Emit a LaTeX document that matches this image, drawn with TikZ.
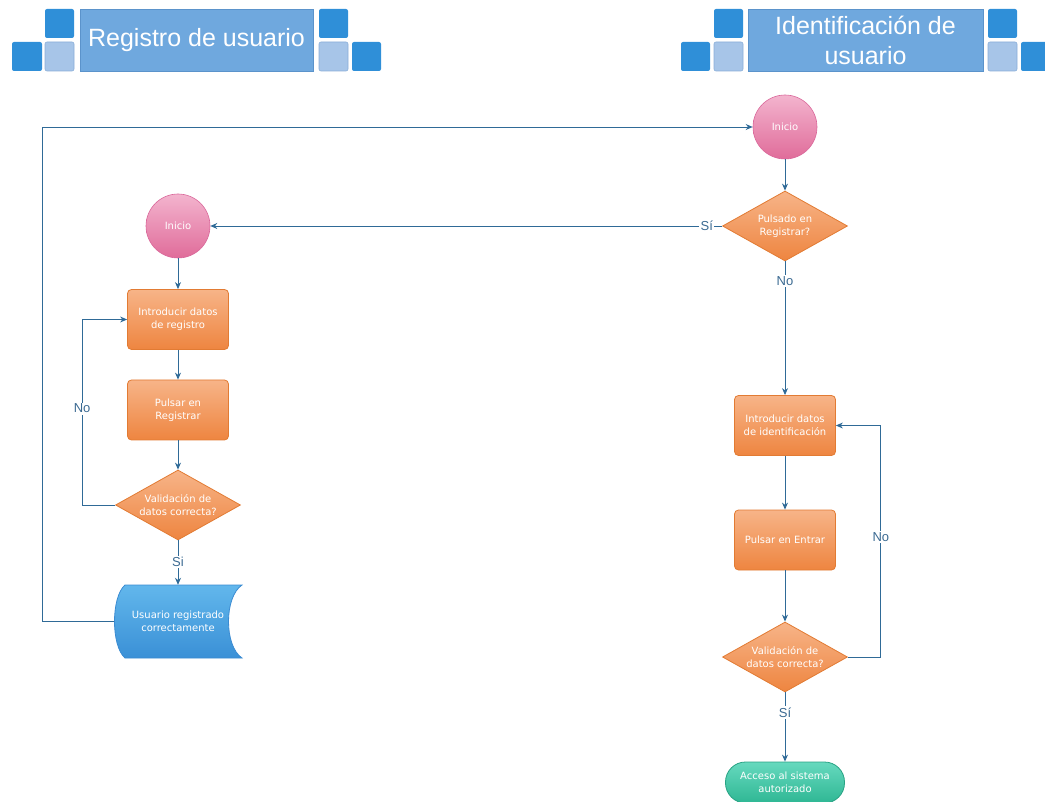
\documentclass[tikz,border=0pt]{standalone}
\usepackage{fontspec}
\setmainfont{Liberation Sans}
\newfontfamily\nodefont{DejaVu Sans}
\usetikzlibrary{shapes.geometric,arrows.meta}

% palette
\definecolor{hdark}{HTML}{2F8FD8}
\definecolor{hlight}{HTML}{A7C5E8}
\definecolor{hlightline}{HTML}{8AAED8}
\definecolor{hband}{HTML}{6FA8DE}
\definecolor{hbandline}{HTML}{5B93CB}
\definecolor{wirecol}{HTML}{2F6A97}
\definecolor{lblcol}{HTML}{3B6A92}
\definecolor{orTop}{HTML}{F7B488}
\definecolor{orBot}{HTML}{EE8540}
\definecolor{orLine}{HTML}{E27B33}
\definecolor{pkTop}{HTML}{F3B4CE}
\definecolor{pkBot}{HTML}{E06C9A}
\definecolor{pkLine}{HTML}{D9679A}
\definecolor{tpTop}{HTML}{62B7EC}
\definecolor{tpBot}{HTML}{3A90D6}
\definecolor{tpLine}{HTML}{3A8BD2}
\definecolor{tlTop}{HTML}{66D9BE}
\definecolor{tlBot}{HTML}{2FB794}
\definecolor{tlLine}{HTML}{28A384}

\tikzset{
  nodetext/.style={text=white, align=center, font=\nodefont\fontsize{10}{13}\selectfont},
  flowbox/.style={rectangle, rounded corners=4pt, draw=orLine, line width=0.8pt,
    top color=orTop, bottom color=orBot, minimum width=101pt, minimum height=60pt,
    inner sep=0pt, nodetext},
  decision/.style={diamond, aspect=1.79, draw=orLine, line width=0.8pt,
    top color=orTop, bottom color=orBot, minimum width=125pt, minimum height=70pt,
    inner sep=0pt, nodetext},
  startnode/.style={circle, minimum size=64pt, inner sep=0pt, draw=pkLine,
    line width=0.6pt, top color=pkTop, bottom color=pkBot, nodetext},
  storednode/.style={rectangle, minimum width=127pt, minimum height=73pt,
    inner sep=0pt, nodetext},
  endnode/.style={rectangle, rounded corners=20pt, minimum width=119pt,
    minimum height=41pt, inner sep=0pt, draw=tlLine, line width=0.8pt,
    top color=tlTop, bottom color=tlBot, nodetext},
  wire/.style={draw=wirecol, line width=0.9pt},
  arr/.style={wire, -{Stealth[length=7pt,width=6pt]}},
  flowlabel/.style={fill=white, text=lblcol, inner sep=1.5pt,
    font=\fontsize{13}{15}\selectfont},
  darksq/.style={fill=hdark, rounded corners=2pt},
  lightsq/.style={fill=hlight, draw=hlightline, line width=0.6pt, rounded corners=2pt},
  banner/.style={fill=hband, draw=hbandline, line width=0.8pt},
  bannertext/.style={text=white, align=center, font=\fontsize{25}{30}\selectfont}
}

\begin{document}
\begin{tikzpicture}[x=1pt,y=-1pt]
\useasboundingbox (0,0) rectangle (1045,802);

% ---- header: Registro de usuario
\path[darksq] (12,42) rectangle (42,71);
\path[darksq] (45,9) rectangle (74,38);
\path[lightsq] (45,42) rectangle (74,71);
\path[banner] (80,9) rectangle (313,71);
\node[bannertext] (hreg) at (196.5,40) {Registro de usuario};
\path[darksq] (319,9) rectangle (348,38);
\path[lightsq] (319,42) rectangle (348,71);
\path[darksq] (352,42) rectangle (381,71);

% ---- header: Identificación de usuario
\path[darksq] (681,42) rectangle (710,71);
\path[darksq] (714,9) rectangle (743,38);
\path[lightsq] (714,42) rectangle (743,71);
\path[banner] (748,9) rectangle (983,71);
\node[bannertext] (hid) at (865.5,40) {Identificación de\\usuario};
\path[darksq] (988,9) rectangle (1017,38);
\path[lightsq] (988,42) rectangle (1017,71);
\path[darksq] (1021,42) rectangle (1050,71);

% ---- registration flow (column x = 178)
\node[startnode] (i1) at (178,226) {Inicio};
\node[flowbox] (b1) at (178,319.5) {Introducir datos\\de registro};
\node[flowbox] (b2) at (178,410) {Pulsar en\\Registrar};
\node[decision] (d1) at (178,505) {Validación de\\datos correcta?};
% stored-data shape
\path[draw=tpLine, line width=0.8pt, top color=tpTop, bottom color=tpBot]
  (125,585) -- (242,585) .. controls (224,597) and (224,646) .. (242,658)
  -- (125,658) .. controls (111,646) and (111,597) .. (125,585) -- cycle;
\node[storednode] (u) at (178,621.5) {Usuario registrado\\correctamente};

% ---- identification flow (column x = 785)
\node[startnode] (i2) at (785,127) {Inicio};
\node[decision] (d2) at (785,226) {Pulsado en\\Registrar?};
\node[flowbox] (b3) at (785,425.5) {Introducir datos\\de identificación};
\node[flowbox] (b4) at (785,540) {Pulsar en Entrar};
\node[decision] (d3) at (785,657) {Validación de\\datos correcta?};
\node[endnode] (t) at (785,782.5) {Acceso al sistema\\autorizado};

% ---- connectors, registration
\draw[arr] (i1) -- (b1);
\draw[arr] (b1) -- (b2);
\draw[arr] (b2) -- (d1);
\draw[arr] (d1.south) -- node[flowlabel, pos=0.49] {Si} (u.north);
\draw[arr] (d1.west) -- ++(-33,0) |- node[flowlabel, pos=0.26] {No} (b1.west);
\draw[arr] (u.west) -- (42,621.5) |- (i2.west);

% ---- connectors, identification
\draw[arr] (i2) -- (d2);
\draw[arr] (d2.west) -- node[flowlabel, pos=0.03] {Sí} (i1.east);
\draw[arr] (d2.south) -- node[flowlabel, pos=0.15] {No} (b3.north);
\draw[arr] (b3) -- (b4);
\draw[arr] (b4) -- (d3);
\draw[arr] (d3.east) -- ++(33,0) |- node[flowlabel, pos=0.26] {No} (b3.east);
\draw[arr] (d3.south) -- node[flowlabel, pos=0.29] {Sí} (t.north);
\end{tikzpicture}
\end{document}
